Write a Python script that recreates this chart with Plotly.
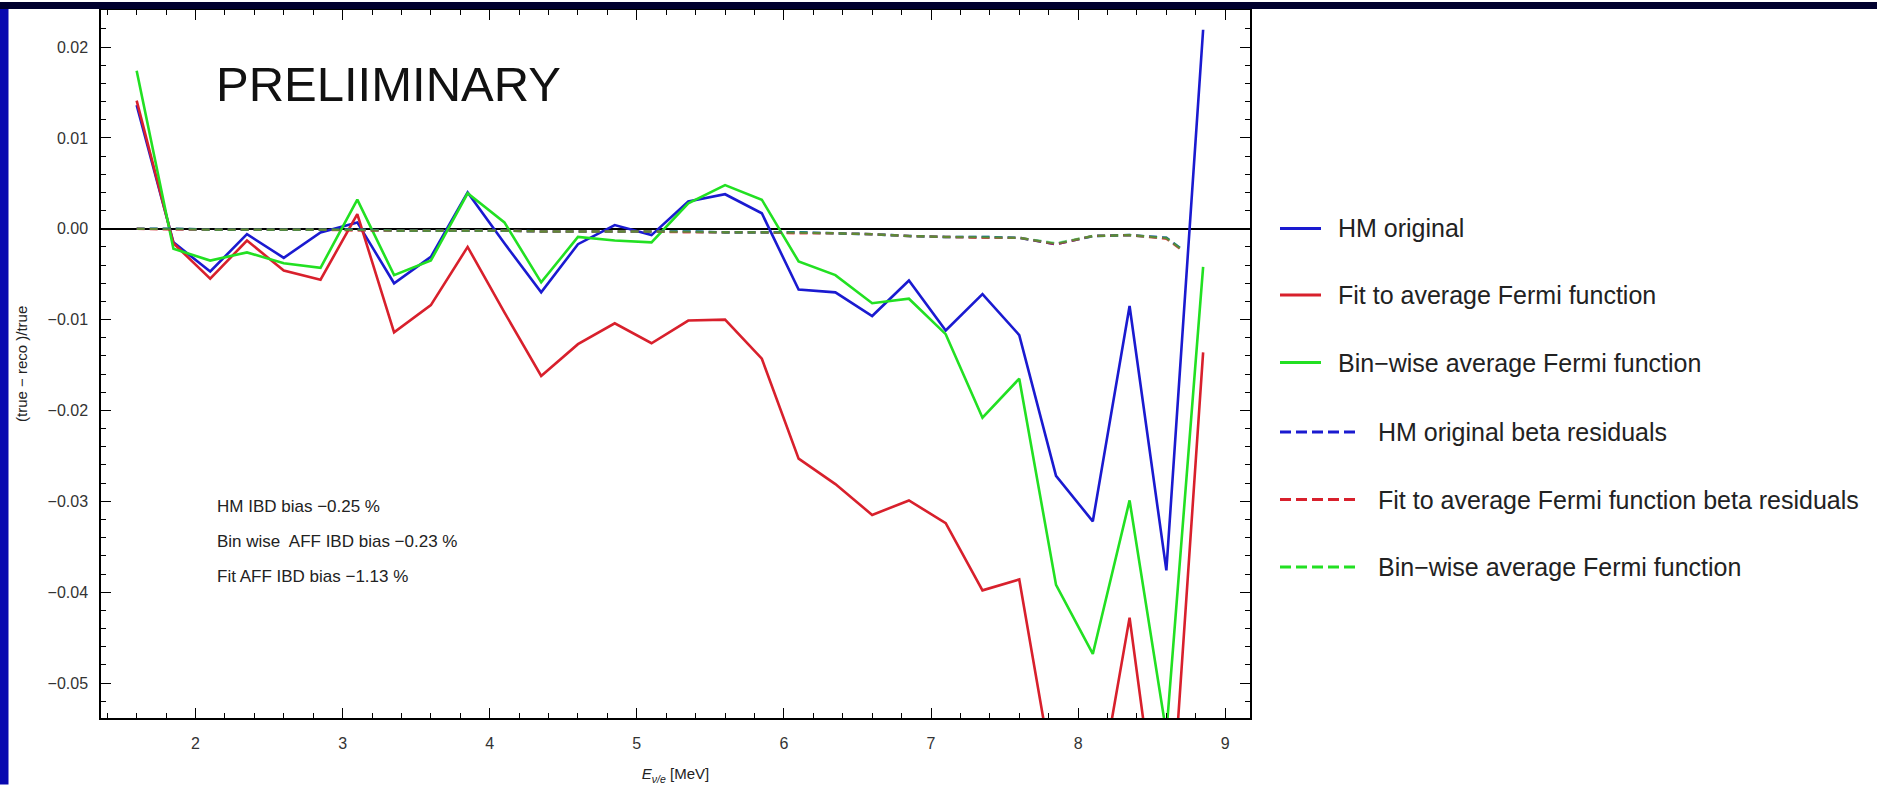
import plotly.graph_objects as go

# ---------------- data ----------------
energy = [1.6, 1.85, 2.1, 2.35, 2.6, 2.85, 3.1, 3.35, 3.6, 3.85,
          4.1, 4.35, 4.6, 4.85, 5.1, 5.35, 5.6, 5.85, 6.1, 6.35,
          6.6, 6.85, 7.1, 7.35, 7.6, 7.85, 8.1, 8.35, 8.6, 8.85]

hm_original = [0.0136, -0.0015, -0.0047, -0.0006, -0.0032, -0.0004, 0.0007, -0.0060, -0.0031, 0.0040,
               -0.0016, -0.0070, -0.0017, 0.0004, -0.0007, 0.0030, 0.0038, 0.0017, -0.0067, -0.0070,
               -0.0096, -0.0057, -0.0112, -0.0072, -0.0117, -0.0272, -0.0322, -0.0085, -0.0376, 0.0219]

fit_aff = [0.0141, -0.0016, -0.0055, -0.0013, -0.0046, -0.0056, 0.0016, -0.0114, -0.0084, -0.0020,
           -0.0092, -0.0162, -0.0127, -0.0104, -0.0126, -0.0101, -0.0100, -0.0143, -0.0253, -0.0281,
           -0.0315, -0.0299, -0.0324, -0.0398, -0.0386, -0.0620, -0.0660, -0.0428, -0.0730, -0.0136]

binwise_aff = [0.0174, -0.0022, -0.0035, -0.0026, -0.0038, -0.0043, 0.0032, -0.0051, -0.0035, 0.0039,
               0.0007, -0.0059, -0.0009, -0.0013, -0.0015, 0.0028, 0.0048, 0.0032, -0.0036, -0.0051,
               -0.0082, -0.0077, -0.0116, -0.0208, -0.0165, -0.0392, -0.0468, -0.0299, -0.0555, -0.0042]

resid_energy = [1.6, 1.85, 2.1, 2.35, 2.6, 2.85, 3.1, 3.35, 3.6, 3.85,
                4.1, 4.35, 4.6, 4.85, 5.1, 5.35, 5.6, 5.85, 6.1, 6.35,
                6.6, 6.85, 7.1, 7.35, 7.6, 7.85, 8.1, 8.35, 8.6, 8.7]

hm_resid = [0.0000, 0.0000, -0.0001, -0.0001, -0.0001, -0.0001, -0.0001, -0.0002, -0.0002, -0.0002,
            -0.0002, -0.0003, -0.0003, -0.0003, -0.0003, -0.0003, -0.0004, -0.0004, -0.0004, -0.0005,
            -0.0006, -0.0008, -0.0009, -0.0009, -0.0010, -0.0017, -0.0008, -0.0007, -0.0010, -0.0022]
fit_resid = [0.0000, -0.0001, -0.0001, -0.0001, -0.0001, -0.0001, -0.0002, -0.0002, -0.0002, -0.0002,
             -0.0002, -0.0003, -0.0003, -0.0003, -0.0003, -0.0004, -0.0004, -0.0004, -0.0005, -0.0005,
             -0.0006, -0.0008, -0.0009, -0.0010, -0.0010, -0.0017, -0.0008, -0.0007, -0.0011, -0.0023]
binwise_resid = [0.0000, 0.0000, -0.0001, -0.0001, -0.0001, -0.0001, -0.0001, -0.0002, -0.0002, -0.0002,
                 -0.0002, -0.0003, -0.0003, -0.0003, -0.0003, -0.0003, -0.0004, -0.0004, -0.0004, -0.0005,
                 -0.0006, -0.0008, -0.0009, -0.0009, -0.0010, -0.0016, -0.0008, -0.0007, -0.0010, -0.0022]

legend_labels = ["HM original", "Fit to average Fermi function", "Bin\u2212wise average Fermi function",
                 "HM original beta residuals", "Fit to average Fermi function beta residuals",
                 "Bin\u2212wise average Fermi function"]
bias_notes = ["HM IBD bias \u22120.25 %", "Bin wise  AFF IBD bias \u22120.23 %", "Fit AFF IBD bias \u22121.13 %"]

# ---------------- style ----------------
BLUE, RED, GREEN = "#1a1ad0", "#d8202c", "#22e022"
FONT = "Liberation Sans, Arial, Helvetica, sans-serif"
W, H = 1877, 788
L, R, T, B = 101, 1250, 8, 721
PW, PH = R - L, B - T


def px_x(px):
    return (px - L) / PW


def px_y(py):
    return (B - py) / PH


fig = go.Figure()
solid_series = [
    (energy, hm_original, BLUE, legend_labels[0]),
    (energy, fit_aff, RED, legend_labels[1]),
    (energy, binwise_aff, GREEN, legend_labels[2]),
]
for xs, ys, col, name in solid_series:
    fig.add_trace(go.Scatter(x=xs, y=ys, mode="lines", name=name, showlegend=False,
                             line=dict(color=col, width=2.6)))

# dashed residual curves, nearly overlapping (the mix gives an olive tone)
dashed_series = [
    (resid_energy, hm_resid, BLUE, legend_labels[3], 2.6, 1.0),
    (resid_energy, fit_resid, RED, legend_labels[4], 2.4, 0.8),
    (resid_energy, binwise_resid, GREEN, legend_labels[5], 2.6, 0.55),
]
for xs, ys, col, name, wd, op in dashed_series:
    fig.add_trace(go.Scatter(x=xs, y=ys, mode="lines", name=name, showlegend=False, opacity=op,
                             line=dict(color=col, width=wd, dash="8px,5px")))

shapes = []
annotations = []

# page decoration bands
shapes.append(dict(type="rect", xref="paper", yref="paper", x0=px_x(0), x1=px_x(W), y0=px_y(7), y1=px_y(0),
                   fillcolor="#00002e", line=dict(width=0), layer="above"))
shapes.append(dict(type="rect", xref="paper", yref="paper", x0=px_x(0), x1=px_x(8.5), y0=px_y(H), y1=px_y(7),
                   fillcolor="#0808b0", line=dict(width=0), layer="above"))

# custom legend
leg_y = [228, 295, 363, 433, 501, 569]
leg_cols = [BLUE, RED, GREEN, BLUE, RED, GREEN]
for i, (lab, col, yy) in enumerate(zip(legend_labels, leg_cols, leg_y)):
    dashed = i >= 3
    x_end = 1358 if dashed else 1321
    shapes.append(dict(type="line", xref="paper", yref="paper", x0=px_x(1280), x1=px_x(x_end),
                       y0=px_y(yy), y1=px_y(yy),
                       line=dict(color=col, width=3, dash="11px,5px" if dashed else "solid")))
    annotations.append(dict(xref="paper", yref="paper", x=px_x(1376 if dashed else 1336), y=px_y(yy),
                            xanchor="left", yanchor="middle", showarrow=False, text=lab,
                            font=dict(family=FONT, size=25, color="#222222")))

# PRELIMINARY stamp
annotations.append(dict(xref="paper", yref="paper", x=px_x(214), y=px_y(83), xanchor="left", yanchor="middle",
                        showarrow=False, text="PRELIIMINARY", font=dict(family=FONT, size=49, color="#111111")))
# bias notes
for txt, yy in zip(bias_notes, [508, 543, 578]):
    annotations.append(dict(xref="paper", yref="paper", x=px_x(215), y=px_y(yy), xanchor="left",
                            yanchor="middle", showarrow=False, text=txt,
                            font=dict(family=FONT, size=17, color="#222222")))
# y axis title
annotations.append(dict(xref="paper", yref="paper", x=px_x(21), y=0.5, xanchor="center",
                        yanchor="middle", showarrow=False, textangle=-90,
                        text="(true \u2212 reco )/true",
                        font=dict(family=FONT, size=15, color="#222222")))

axis_common = dict(showline=True, linecolor="black", linewidth=1.5, mirror="allticks",
                   ticks="inside", tickcolor="black", tickwidth=1.2, ticklen=10,
                   showgrid=False, tickfont=dict(family=FONT, size=16, color="#333333"))

fig.update_layout(
    width=W, height=H,
    margin=dict(l=L, r=W - R, t=T, b=H - B),
    paper_bgcolor="white", plot_bgcolor="white",
    showlegend=False,
    xaxis=dict(range=[1.3576, 9.1686], dtick=1, tick0=0, zeroline=False,
               minor=dict(dtick=0.2, tick0=0, ticks="inside", ticklen=5, tickcolor="black", tickwidth=1.2),
               ticklabelstandoff=10,
               title=dict(text="<i>E</i><sub><i>\u03bd/e</i></sub> [MeV]", standoff=18,
                          font=dict(family=FONT, size=15, color="#222222")),
               **axis_common),
    yaxis=dict(range=[-0.053847, 0.024077], dtick=0.01, tick0=0, tickformat=".2f",
               zeroline=True, zerolinecolor="black", zerolinewidth=2,
               minor=dict(dtick=0.002, tick0=0, ticks="inside", ticklen=5, tickcolor="black", tickwidth=1.2),
               ticklabelstandoff=8,
               **axis_common),
    shapes=shapes,
    annotations=annotations,
)

fig.write_html("out.html")
